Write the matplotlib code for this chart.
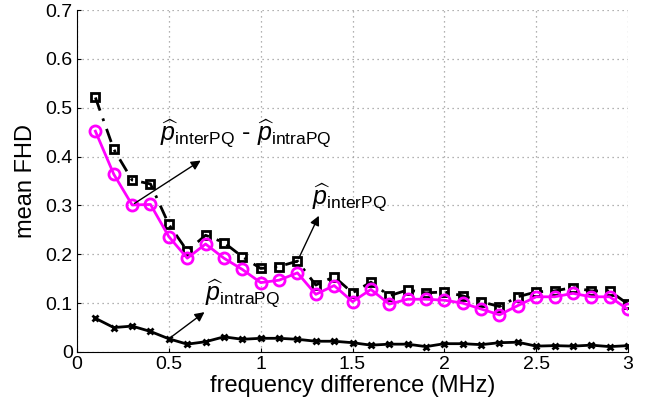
import matplotlib
matplotlib.use('Agg')
import matplotlib.pyplot as plt
import matplotlib.ticker as ticker
import numpy as np

plt.rcParams['font.family'] = ['Liberation Sans', 'DejaVu Sans']
plt.rcParams['mathtext.fontset'] = 'custom'
plt.rcParams['mathtext.rm'] = 'Liberation Sans'
plt.rcParams['mathtext.it'] = 'Liberation Sans:italic'

freq = [0.1, 0.2, 0.3, 0.4, 0.5, 0.6, 0.7, 0.8, 0.9, 1.0,
        1.1, 1.2, 1.3, 1.4, 1.5, 1.6, 1.7, 1.8, 1.9, 2.0,
        2.1, 2.2, 2.3, 2.4, 2.5, 2.6, 2.7, 2.8, 2.9, 3.0]
inter_pq = [0.521, 0.415, 0.352, 0.344, 0.261, 0.207, 0.239, 0.224, 0.195, 0.171,
            0.175, 0.186, 0.137, 0.154, 0.121, 0.143, 0.115, 0.127, 0.121, 0.123,
            0.115, 0.103, 0.093, 0.113, 0.123, 0.125, 0.132, 0.125, 0.125, 0.098]
diff_pq = [0.452, 0.364, 0.301, 0.302, 0.236, 0.192, 0.221, 0.192, 0.169, 0.142,
           0.147, 0.162, 0.118, 0.136, 0.103, 0.128, 0.098, 0.108, 0.108, 0.106,
           0.100, 0.088, 0.076, 0.095, 0.113, 0.113, 0.120, 0.113, 0.113, 0.087]
intra_pq = [0.069, 0.050, 0.053, 0.042, 0.027, 0.016, 0.021, 0.031, 0.026, 0.028,
            0.028, 0.026, 0.022, 0.022, 0.019, 0.014, 0.016, 0.016, 0.011, 0.017,
            0.017, 0.015, 0.019, 0.020, 0.012, 0.013, 0.012, 0.014, 0.011, 0.013]

fig = plt.figure(figsize=(6.5, 4.09), dpi=100)
ax = fig.add_axes([0.1185, 0.1394, 0.8477, 0.836])

ax.plot(freq, intra_pq, color='black', lw=2, marker='x', ms=4, mew=2)
ax.plot(freq, inter_pq, color='black', lw=2, ls=(0, (5, 3, 1, 3)), marker='s', ms=6,
        mfc='none', mec='black', mew=2)
ax.plot(freq, diff_pq, color='magenta', lw=2, marker='o', ms=8,
        mfc='none', mec='magenta', mew=2)

ax.set_xlim(0, 3)
ax.set_ylim(0, 0.7)
ax.set_xticks(np.arange(0, 3.01, 0.5))
ax.set_yticks(np.arange(0, 0.71, 0.1))
ax.xaxis.set_major_formatter(ticker.FormatStrFormatter('%g'))
ax.yaxis.set_major_formatter(ticker.FormatStrFormatter('%g'))
ax.tick_params(direction='in', length=3, labelsize=14, pad=3)
ax.spines['top'].set_visible(False)
ax.spines['right'].set_visible(False)
ax.grid(True, ls=(0, (1, 3)), color='#999999', lw=0.9)
ax.set_xlabel('frequency difference (MHz)', fontsize=17, labelpad=1)
ax.set_ylabel('mean FHD', fontsize=17, labelpad=6)

arrow = dict(arrowstyle='-|>', color='black', lw=1, mutation_scale=14)
ax.annotate('', xy=(0.686, 0.395), xytext=(0.3, 0.301), arrowprops=arrow)
ax.annotate('', xy=(1.323, 0.284), xytext=(1.2, 0.186), arrowprops=arrow)
ax.annotate('', xy=(0.706, 0.085), xytext=(0.5, 0.027), arrowprops=arrow)

ax.text(0.45, 0.432, r'$\widehat{p}_{\mathrm{interPQ}}$ - $\widehat{p}_{\mathrm{intraPQ}}$',
        fontsize=18, va='baseline', ha='left')
ax.text(1.28, 0.302, r'$\widehat{p}_{\mathrm{interPQ}}$', fontsize=18,
        va='baseline', ha='left')
ax.text(0.695, 0.104, r'$\widehat{p}_{\mathrm{intraPQ}}$', fontsize=18,
        va='baseline', ha='left')

plt.savefig('out.png', dpi=100)
